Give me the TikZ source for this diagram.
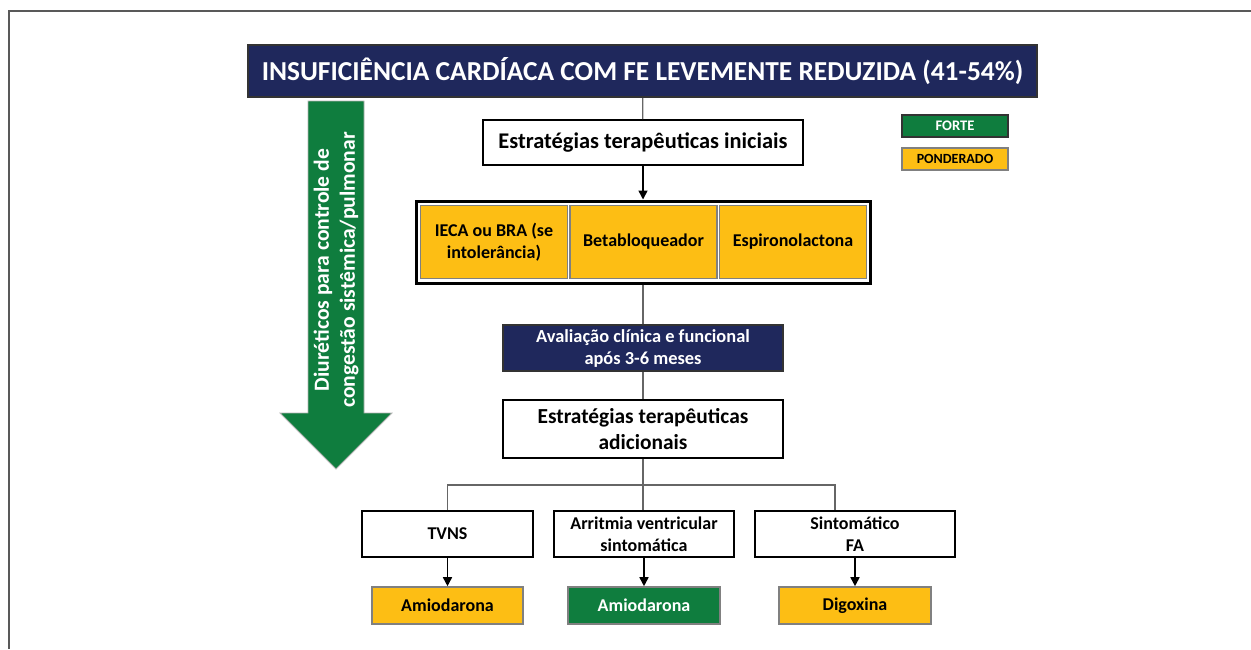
\documentclass[tikz,border=0pt]{standalone}
\usepackage{fontspec}
\setmainfont{Carlito}
\usetikzlibrary{arrows.meta,positioning}

\definecolor{navy}{RGB}{31,40,92}
\definecolor{forte}{RGB}{15,125,62}
\definecolor{ponderado}{RGB}{253,190,20}

\begin{document}
\begin{tikzpicture}[
	x=0.5pt, y=-0.5pt,
	every node/.style = {align=center, inner sep=0pt, font=\bfseries},
	whitebox/.style = {draw, line width=1pt, fill=white},
	navybox/.style = {draw=black!80, line width=1pt, fill=navy, text=white},
	fortebox/.style = {draw=gray, line width=0.8pt, fill=forte, text=white},
	pondbox/.style = {draw=gray, line width=0.8pt, fill=ponderado},
	link/.style = {draw=gray!80!black, line width=0.6pt},
	arrow/.style = {draw, line width=0.8pt, -{Triangle[length=4.5pt,width=4.5pt]}}
	]
	
	\useasboundingbox (0,0) rectangle (1251,649);
	\draw[gray!70!black, line width=1pt] (1251,11) -- (9,11) -- (9,649);
	
	% Title
	\node[navybox, minimum width=394.5pt, minimum height=26pt, font=\bfseries\fontsize{13.7}{16}\selectfont] (title) at (642.5,71) {INSUFICIÊNCIA CARDÍACA COM FE LEVEMENTE REDUZIDA (41-54\%)};
	
	% Legend
	\node[fortebox, draw=black!80, minimum width=53pt, minimum height=11pt, font=\bfseries\fontsize{7.3}{8}\selectfont] (forte) at (955,126) {FORTE};
	\node[pondbox, minimum width=53pt, minimum height=11pt, font=\bfseries\fontsize{7}{8}\selectfont] (ponderado) at (955,159) {PONDERADO};
	
	% Diuretics arrow
	\filldraw[fill=forte, draw=gray!60, line width=0.4pt] (308,101) -- (364,101) -- (364,413) -- (392,413) -- (336,469) -- (280,413) -- (308,413) -- cycle;
	\node[rotate=90, text=white, font=\bfseries\fontsize{10.8}{13}\selectfont] (diureticos) at (336,270) {Diuréticos para controle de\\congestão sistêmica/pulmonar};
	
	% Initial strategies
	\node[whitebox, minimum width=160pt, minimum height=22.5pt, font=\bfseries\fontsize{11.2}{13}\selectfont] (iniciais) at (643,142.5) {Estratégias terapêuticas iniciais};
	\draw[link] (title) -- (iniciais);
	
	\node[draw, line width=1.5pt, minimum width=227pt, minimum height=41pt] (farmacos) at (643,242) {};
	\foreach \name/\x/\txt in {ieca/494/{IECA ou BRA (se\\intolerância)}, beta/643.5/Betabloqueador, espiro/793/Espironolactona}
	\node[pondbox, minimum width=73.5pt, minimum height=36.5pt, font=\bfseries\fontsize{9}{11}\selectfont] (\name) at (\x,242) {\txt};
	\draw[arrow] (iniciais) -- (farmacos);
	
	% Evaluation
	\node[navybox, minimum width=140pt, minimum height=23pt, font=\bfseries\fontsize{9.2}{11}\selectfont] (avaliacao) at (643,348) {Avaliação clínica e funcional\\após 3-6 meses};
	\draw[link] (farmacos) -- (avaliacao);
	
	% Additional strategies
	\node[whitebox, minimum width=140pt, minimum height=29pt, font=\bfseries\fontsize{10.7}{13}\selectfont] (adicionais) at (643,429) {Estratégias terapêuticas\\adicionais};
	\draw[link] (avaliacao) -- (adicionais);
	
	% Conditions
	\node[whitebox, minimum width=85.5pt, minimum height=23pt, font=\bfseries\fontsize{9}{11}\selectfont] (tvns) at (447.5,534) {TVNS};
	\node[whitebox, minimum width=90pt, minimum height=23pt, font=\bfseries\fontsize{9}{11}\selectfont] (arritmia) at (644,534) {Arritmia ventricular\\sintomática};
	\node[whitebox, minimum width=100pt, minimum height=23pt, font=\bfseries\fontsize{9}{11}\selectfont] (sintomatico) at (855,534) {Sintomático\\FA};
	
	\coordinate (bus) at (643,485);
	\coordinate (busright) at (835,485);
	\draw[link] (adicionais) -- (bus);
	\draw[link] (bus) -- (bus |- arritmia.north);
	\draw[link] (tvns.north) |- (busright) -- (busright |- sintomatico.north);
	
	% Drugs
	\node[pondbox, minimum width=75.5pt, minimum height=18.5pt, font=\bfseries\fontsize{9}{11}\selectfont] (amio1) at (447.5,605.5) {Amiodarona};
	\node[fortebox, minimum width=76pt, minimum height=18.5pt, font=\bfseries\fontsize{9}{11}\selectfont] (amio2) at (644,605.5) {Amiodarona};
	\node[pondbox, minimum width=76pt, minimum height=18.5pt, font=\bfseries\fontsize{9}{11}\selectfont] (digoxina) at (855,605.5) {Digoxina};
	
	\foreach \a/\b in {tvns/amio1, arritmia/amio2, sintomatico/digoxina}
	\draw[arrow] (\a) -- (\b);
	
\end{tikzpicture}
\end{document}
